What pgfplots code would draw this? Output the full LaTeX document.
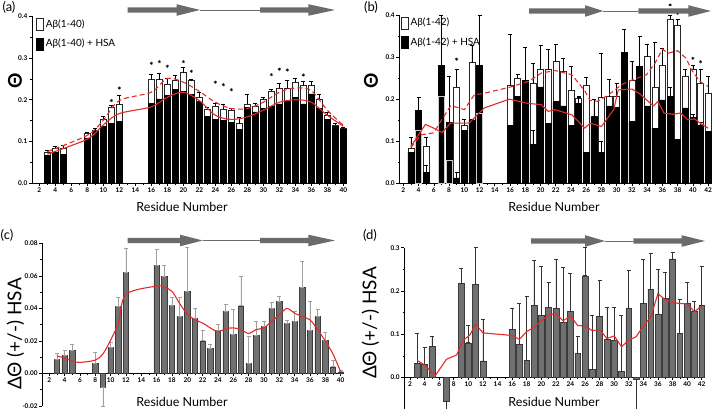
\documentclass[border=0pt]{standalone}
\usepackage{pgfplots}
\usepackage{pgfplotstable}
\pgfplotsset{compat=1.18}
\usepackage{fontspec}
\setmainfont{Lato}

\definecolor{bargray}{HTML}{707070}
\definecolor{baredge}{HTML}{3C3C3C}
\definecolor{errlight}{HTML}{A0A0A0}
\definecolor{strandgray}{HTML}{6B6B6B}
\definecolor{fitred}{HTML}{E52A2A}

% residue, white bar (no HSA) + err, black bar (with HSA) + err
\pgfplotstableread{
x w we b be
3 0.075 0.004 0.068 0
4 0.084 0.004 0.074 0
5 0.084 0.006 0.070 0
8 0.120 0.003 0.109 0
9 0.126 0.006 0.124 0
10 0.154 0.006 0.137 0
11 0.183 0.004 0.143 0
12 0.189 0.021 0.149 0
16 0.248 0.012 0.192 0
17 0.248 0.016 0.202 0
18 0.238 0.013 0.210 0
19 0.246 0.013 0.224 0
20 0.265 0.012 0.220 0
21 0.246 0.002 0.213 0
22 0.206 0.012 0.195 0
23 0.178 0.004 0.160 0
24 0.184 0.008 0.153 0
25 0.178 0.012 0.151 0
26 0.176 0.003 0.146 0
27 0.143 0.016 0.129 0
28 0.190 0.022 0.181 0
29 0.184 0.007 0.171 0
30 0.200 0.006 0.179 0
31 0.220 0.004 0.184 0
32 0.228 0.010 0.190 0
33 0.228 0.018 0.197 0
34 0.242 0.010 0.206 0
35 0.234 0.009 0.190 0
36 0.234 0.009 0.214 0
37 0.200 0.013 0.179 0
38 0.163 0.008 0.153 0
39 0.139 0.004 0.137 0
40 0.131 0.003 0.129 0
}\dataA

\pgfplotstableread{
x w we b be
3 0.084 0.025 0.074 0
4 0.127 0 0.173 0.032
5 0.088 0.022 0.026 0.017
7 0.206 0 0.280 0.120
8 0.054 0 0.145 0.108
9 0.229 0.041 0.013 0.012
10 0.137 0.016 0.125 0
11 0.287 0.040 0.151 0
12 0.167 0 0.280 0.120
16 0.232 0.122 0.137 0
17 0.250 0.010 0.206 0
18 0.242 0 0.244 0.080
19 0.238 0.047 0.092 0.034
20 0.271 0.058 0.229 0
21 0.271 0.048 0.143 0
22 0.289 0.042 0.194 0
23 0.267 0.030 0.184 0
24 0.222 0.055 0.137 0
25 0.202 0.004 0.190 0.015
26 0.232 0.020 0.074 0
27 0.160 0 0.158 0.042
28 0.205 0.104 0.074 0.026
29 0.206 0.041 0.184 0
30 0.206 0.032 0.181 0
31 0.246 0 0.311 0.055
32 0.246 0.043 0.147 0
33 0.254 0 0.277 0.073
34 0.301 0.029 0.184 0
35 0.229 0.105 0.131 0
36 0.280 0.040 0.198 0
37 0.390 0.010 0.206 0.022
38 0.376 0.014 0.105 0
39 0.255 0.015 0.179 0
40 0.271 0.010 0.157 0.006
41 0.238 0.032 0.139 0.006
42 0.214 0.040 0.123 0
}\dataB

\pgfplotstableread{
x y ep em
3 0.0086 0.0037 0
4 0.0113 0.0031 0
5 0.0144 0.0034 0
8 0.0062 0.0065 0
9 -0.0086 0 0.0114
10 0.0160 0.0030 0
11 0.0414 0.0056 0
12 0.0620 0.0150 0
16 0.0663 0.0102 0
17 0.0595 0.0070 0
18 0.0420 0.0046 0
19 0.0353 0.0117 0
20 0.0503 0.0272 0
21 0.0338 0.0062 0
22 0.0201 0.0062 0
23 0.0154 0.0026 0
24 0.0267 0.0037 0
25 0.0384 0.0043 0
26 0.0240 0.0156 0
27 0.0416 0.0179 0
28 0.0062 0.0164 0
29 0.0236 0.0082 0
30 0.0290 0.0028 0
31 0.0400 0.0035 0
32 0.0445 0.0027 0
33 0.0308 0.0020 0
34 0.0318 0.0062 0
35 0.0527 0.0160 0
36 0.0267 0.0174 0
37 0.0349 0.0045 0
38 0.0205 0.0047 0
39 0.0041 0.0041 0
40 0.0010 0.0010 0
}\dataC

\pgfplotstableread{
x y ep em
3 0.032 0.070 0
4 0.030 0.039 0
5 0.071 0.023 0
7 -0.055 0 0.018
9 0.217 0.035 0
10 0.080 0.040 0
11 0.215 0.085 0
12 0.038 0.096 0
16 0.111 0.048 0
17 0.077 0.094 0
18 0.040 0.147 0
19 0.166 0.105 0
20 0.143 0.113 0
21 0.162 0.059 0
22 0.160 0.114 0
23 0.127 0.127 0
24 0.152 0.088 0
25 0.056 0.040 0
26 0.235 0.065 0
27 0.0185 0.1255 0
28 0.141 0.084 0
29 0.088 0.075 0
30 0.086 0.077 0
31 0.0146 0.128 0
32 0.160 0.087 0
33 -0.004 0 0.069
34 0.171 0.103 0
35 0.204 0.083 0
36 0.146 0.104 0
37 0.183 0.059 0
38 0.274 0.015 0
39 0.102 0.078 0
40 0.171 0.048 0
41 0.152 0.025 0
42 0.167 0.089 0
}\dataD

\pgfplotsset{
  panel/.style={
    scale only axis,
    axis y line*=left,
    tick align=outside,
    major tick length=3pt,
    minor tick length=1.8pt,
    every tick/.style={black, line width=0.6pt},
    axis line style={black, line width=0.7pt},
    ticklabel style={font=\bfseries\fontsize{6.5}{7}\selectfont, inner sep=1.5pt},
    /pgf/number format/assume math mode=true,
    scaled y ticks=false,
    xtick={2,4,...,42},
    minor x tick num=1,
    minor y tick num=1,
    clip=false,
  },
  prec1/.style={y tick label style={/pgf/number format/fixed,
    /pgf/number format/fixed zerofill, /pgf/number format/precision=1}},
  prec2/.style={y tick label style={/pgf/number format/fixed,
    /pgf/number format/fixed zerofill, /pgf/number format/precision=2}},
  whitebar/.style={ybar, bar width=6pt, bar shift=0pt, fill=white, draw=black!85, line width=0.5pt,
    error bars/y dir=plus, error bars/y explicit,
    error bars/error bar style={black, line width=0.7pt},
    error bars/error mark options={rotate=90, mark size=2pt, line width=0.7pt}},
  blackbar/.style={ybar, bar width=6pt, bar shift=0pt, fill=black, draw=black, line width=0.5pt,
    error bars/y dir=plus, error bars/y explicit,
    error bars/error bar style={black, line width=0.7pt},
    error bars/error mark options={rotate=90, mark size=2pt, line width=0.7pt}},
  fitsolid/.style={fitred, line width=1.1pt, forget plot},
  fitdash/.style={fitred, line width=1.1pt, dash pattern=on 5pt off 3pt, forget plot},
  starmark/.style={only marks, mark=asterisk, mark size=1.6pt, black, mark options={line width=0.5pt}, forget plot},
  boxlegend/.style={
    legend style={draw=none, fill=none, inner sep=0pt, row sep=6pt,
      font=\fontsize{10}{12}\selectfont, anchor=north west},
    legend cell align=left,
    legend image code/.code={\draw[##1, line width=0.5pt] (0pt,-6pt) rectangle (7pt,6pt);},
  },
}

\newcommand{\strandarrow}[4]{%
  \fill[strandgray] (#1,#4-2.6) -- (#2,#4-2.6) -- (#2,#4-5.8) -- (#3,#4)
    -- (#2,#4+5.8) -- (#2,#4+2.6) -- (#1,#4+2.6) -- cycle;}

\begin{document}
\begin{tikzpicture}
\path[use as bounding box] (0pt,0pt) rectangle (713pt,409pt);

% (a)
\begin{axis}[panel, boxlegend, prec1,
  at={(32pt,225.5pt)}, anchor=south west,
  width=314pt, height=167.5pt,
  axis x line*=bottom,
  xmin=1.09, xmax=40.34, ymin=0, ymax=0.4,
  ytick={0,0.1,0.2,0.3,0.4},
  legend style={at={(axis description cs:0.013,0.99)}},
]
\addplot[whitebar] table[x=x, y=w, y error=we] {\dataA};
\addplot[blackbar] table[x=x, y=b, y error=be] {\dataA};
\addlegendentry{Aβ(1-40)}
\addlegendentry{Aβ(1-40) + HSA}
\addplot[fitsolid, smooth, tension=0.5] coordinates {
  (3,0.070) (8,0.106) (10,0.140) (12,0.167) (16,0.183) (18,0.206) (20,0.218)
  (22,0.198) (24,0.163) (26,0.153) (28,0.159) (30,0.175) (32,0.194) (34,0.200)
  (36,0.194) (38,0.163) (40,0.137)};
\addplot[fitdash, smooth, tension=0.5] coordinates {
  (3,0.076) (8,0.115) (10,0.151) (12,0.198) (16,0.218) (18,0.251) (20,0.242)
  (22,0.220) (24,0.194) (26,0.179) (28,0.179) (30,0.194) (32,0.218) (34,0.228)
  (36,0.222) (38,0.175) (40,0.139)};
\addplot[starmark] coordinates {
  (11,0.198) (12,0.228) (16,0.287) (17,0.291) (18,0.280) (20,0.291) (21,0.268)
  (24,0.242) (25,0.236) (26,0.224) (31,0.260) (32,0.273) (33,0.271) (35,0.259)};
\end{axis}

% (b)
\begin{axis}[panel, boxlegend, prec1,
  at={(399.3pt,225.7pt)}, anchor=south west,
  width=312.7pt, height=168.3pt,
  axis x line*=bottom,
  xmin=1.47, xmax=42.5, ymin=0, ymax=0.4,
  ytick={0,0.1,0.2,0.3,0.4},
  legend style={at={(axis description cs:0.005,0.994)}},
]
\addplot[whitebar] table[x=x, y=w, y error=we] {\dataB};
\addplot[blackbar] table[x=x, y=b, y error=be] {\dataB};
\addlegendentry{Aβ(1-42)}
\addlegendentry{Aβ(1-42) + HSA}
% outlines of the white bars that sit behind taller black bars
\addplot[ybar, bar width=6pt, bar shift=0pt, draw=white!80!black, fill=none,
  line width=0.5pt, forget plot] coordinates {(4,0.127) (7,0.206) (8,0.054) (12,0.167)};
\addplot[fitsolid] coordinates {
  (3,0.088) (3.8,0.110) (4.9,0.140) (6,0.131) (7.1,0.121) (8.2,0.143) (9.5,0.143)
  (10.6,0.143) (11.5,0.159) (12.6,0.179) (15.9,0.200) (18.3,0.190) (20.1,0.187)
  (21,0.171) (21.9,0.175) (24.1,0.163) (25.8,0.131) (26.5,0.143) (28,0.135)
  (29.6,0.175) (30.2,0.222) (32,0.224) (33,0.213) (34.8,0.184) (35.4,0.194)
  (36.2,0.167) (37.3,0.164) (38.4,0.167) (39.3,0.151) (40.2,0.153) (41.1,0.141)
  (42,0.131)};
\addplot[fitdash] coordinates {
  (3,0.085) (4.3,0.115) (6,0.120) (7,0.150) (8.2,0.184) (9.2,0.180) (10,0.175)
  (11.3,0.210) (12.6,0.214) (15.9,0.228) (18.4,0.242) (20.1,0.262) (21.9,0.268)
  (24.1,0.258) (25.8,0.220) (26.5,0.197) (27.5,0.195) (28.9,0.210) (30.7,0.235)
  (32.1,0.246) (33.9,0.258) (35,0.285) (36,0.319) (36.7,0.309) (38,0.315)
  (39.1,0.297) (39.8,0.270) (40.9,0.242) (42,0.230)};
\addplot[starmark] coordinates {
  (9,0.295) (37,0.424) (38,0.404) (40,0.297) (41,0.289)};
\end{axis}

% (c)
\begin{axis}[panel, prec2,
  at={(42.3pt,3pt)}, anchor=south west,
  width=301pt, height=162.7pt,
  axis x line*=middle,
  xmin=1.09, xmax=40.35, ymin=-0.02, ymax=0.08,
  ytick={-0.02,0,0.02,0.04,0.06,0.08},
]
\addplot[ybar, bar width=5.6pt, bar shift=0pt, fill=bargray, draw=baredge, line width=0.5pt,
  error bars/y dir=both, error bars/y explicit,
  error bars/error bar style={errlight, line width=0.8pt},
  error bars/error mark options={rotate=90, mark size=2pt, line width=0.8pt}]
  table[x=x, y=y, y error plus=ep, y error minus=em] {\dataC};
\addplot[fitsolid, smooth, tension=0.5] coordinates {
  (3,0.0107) (4,0.0095) (5,0.0075) (6,0.0068) (8,0.0082) (9,0.0120) (10,0.0205)
  (11,0.0310) (12,0.0486) (16,0.0537) (17,0.0530) (18,0.0505) (19,0.0430)
  (20,0.0365) (21,0.0330) (22,0.0310) (23,0.0280) (24,0.0256) (25,0.0275)
  (26,0.0280) (27,0.0270) (28,0.0246) (29,0.0270) (30,0.0280) (31,0.0320)
  (32,0.0360) (33,0.0400) (34,0.0370) (35,0.0350) (36,0.0330) (37,0.0270)
  (38,0.0200) (39,0.0120) (40,0.0010)};
\end{axis}

% (d)
\begin{axis}[panel, prec1,
  at={(404.3pt,0pt)}, anchor=south west,
  width=300.7pt, height=161.3pt,
  axis x line*=middle,
  xmin=1.22, xmax=42.45, ymin=-0.073, ymax=0.3,
  ytick={0,0.1,0.2,0.3},
]
\addplot[ybar, bar width=5.8pt, bar shift=0pt, fill=bargray, draw=baredge, line width=0.5pt,
  error bars/y dir=both, error bars/y explicit,
  error bars/error bar style={black!80, line width=0.7pt},
  error bars/error mark options={rotate=90, mark size=2pt, line width=0.7pt}]
  table[x=x, y=y, y error plus=ep, y error minus=em] {\dataD};
\addplot[fitsolid] coordinates {
  (3,0.039) (4,0.029) (5,0.011) (5.5,0.005) (7,0.042) (8.4,0.052) (9.3,0.086)
  (10.2,0.098) (11,0.123) (12,0.103) (16,0.097) (17,0.088) (18,0.106) (19,0.116)
  (20,0.131) (21,0.144) (22,0.148) (23,0.131) (24,0.142) (25,0.120) (26,0.119)
  (27,0.108) (28,0.111) (29,0.090) (30,0.096) (31,0.071) (32,0.086) (33,0.094)
  (34,0.119) (35,0.139) (36,0.194) (37,0.179) (38,0.173) (39,0.171) (40,0.170)
  (41,0.152) (42,0.165)};
\end{axis}

\begin{scope}[x=1pt, y=1pt]
% beta-strand arrows
\strandarrow{127.7}{176.7}{200}{399}
\draw[strandgray, line width=0.7pt] (200,399) -- (260,399);
\strandarrow{260}{308.3}{335}{399}
\strandarrow{529}{585}{603.3}{398}
\draw[strandgray, line width=0.7pt] (603.3,398) -- (638.3,398);
\strandarrow{638.3}{688.3}{711}{398}
\strandarrow{127.7}{180}{202.7}{168.5}
\draw[strandgray, line width=0.7pt] (202.7,168.5) -- (260,168.5);
\strandarrow{260}{308.3}{335}{168.5}
\strandarrow{531}{585}{605}{168}
\draw[strandgray, line width=0.7pt] (605,168) -- (633.3,168);
\strandarrow{633.3}{681.7}{705}{168}
% panel letters
\node[font=\fontsize{13}{13}\selectfont] at (9,402) {(a)};
\node[font=\fontsize{13}{13}\selectfont] at (371,402) {(b)};
\node[font=\fontsize{13}{13}\selectfont] at (7,174) {(c)};
\node[font=\fontsize{13}{13}\selectfont] at (370,174) {(d)};
% axis titles
\node[font=\fontsize{12.5}{13}\selectfont] at (182,202.3) {Residue Number};
\node[font=\fontsize{12.5}{13}\selectfont] at (554,202.3) {Residue Number};
\node[font=\fontsize{12.5}{13}\selectfont] at (182,7) {Residue Number};
\node[font=\fontsize{12.5}{13}\selectfont] at (554,7) {Residue Number};
\node[rotate=90, font=\bfseries\fontsize{19}{19}\selectfont] at (15,328) {Θ};
\node[rotate=90, font=\bfseries\fontsize{19}{19}\selectfont] at (371,328) {Θ};
\node[rotate=90, font=\fontsize{19}{19}\selectfont] at (15.5,75) {ΔΘ (+/-) HSA};
\node[rotate=90, font=\fontsize{19}{19}\selectfont] at (370.5,86) {ΔΘ (+/-) HSA};
\end{scope}
\end{tikzpicture}
\end{document}
